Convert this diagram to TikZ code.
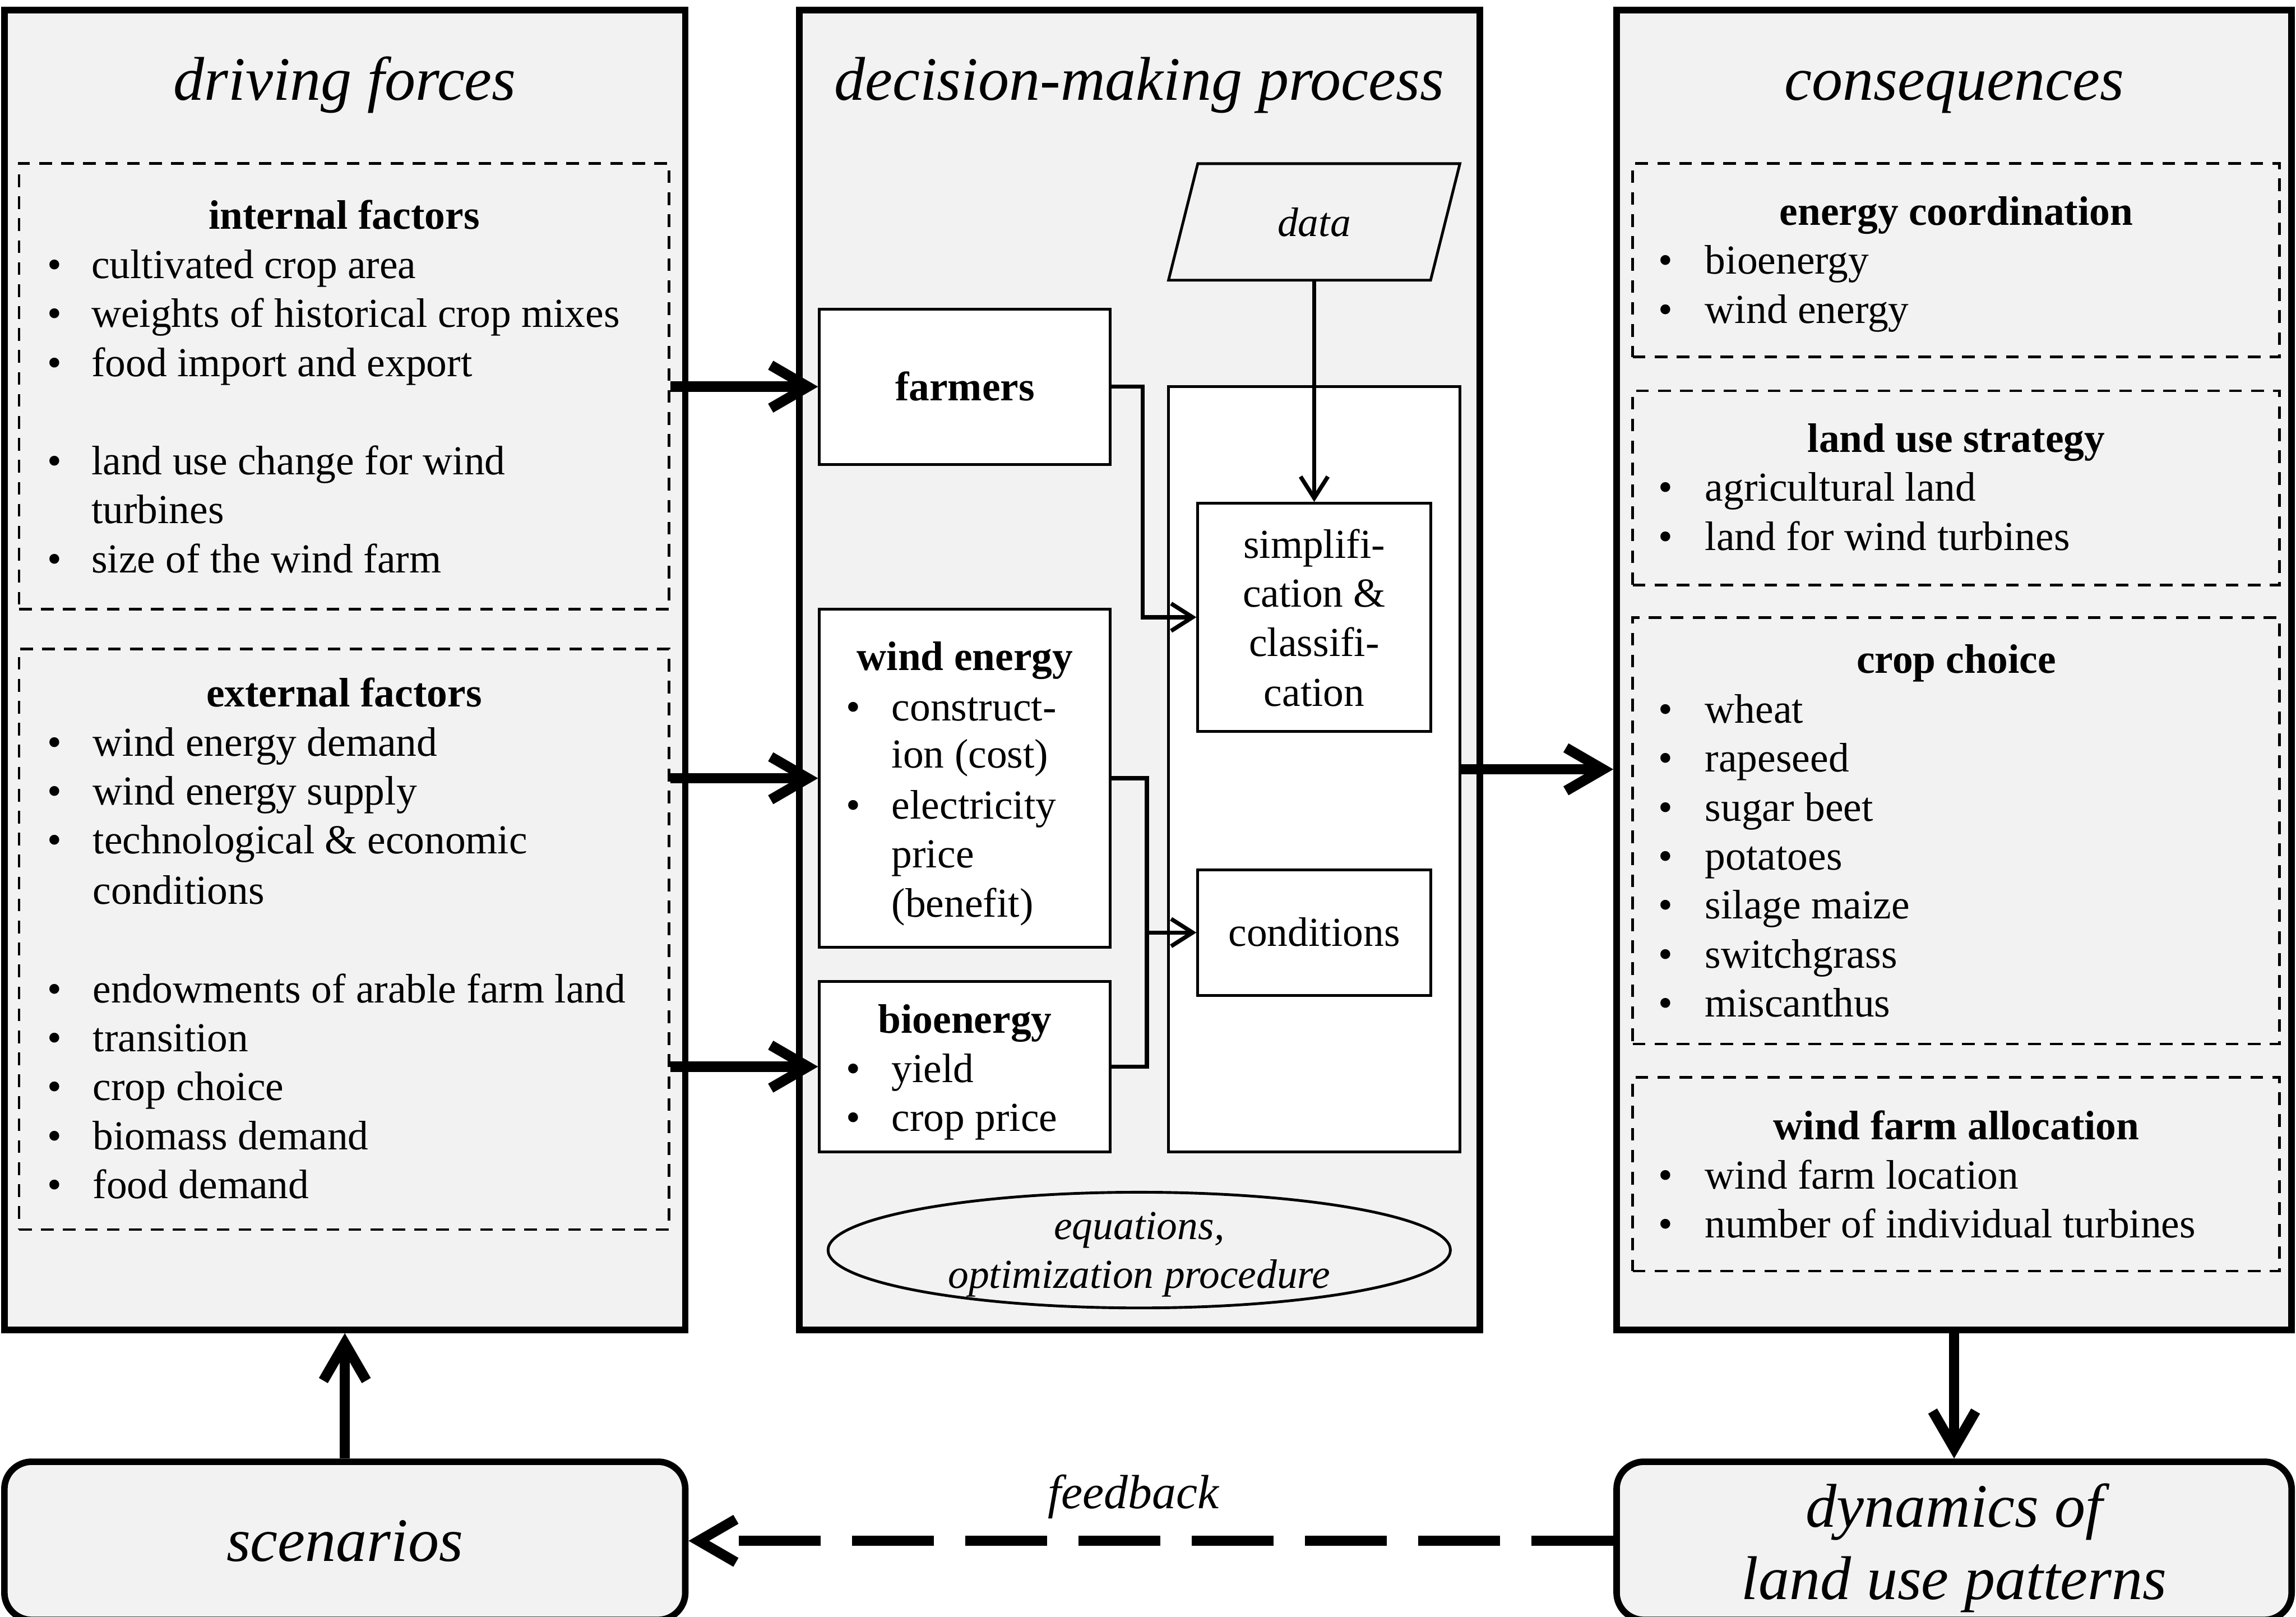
\documentclass[12pt,tikz,border=0pt]{standalone}
\usepackage{fontspec}
\setmainfont{Liberation Serif}
\usetikzlibrary{
arrows.meta,
calc,
fit,
positioning,
shapes
}
\definecolor{panelgray}{RGB}{242,242,242}
\tikzset{>=latex}

\begin{document}
\begin{tikzpicture}[x=0.15mm, y=-0.15mm,
	panel/.style={draw, line width=1.9pt, fill=panelgray, inner sep=0pt},
	dashgroup/.style={draw, line width=0.8pt, dash pattern=on 1.3mm off 0.95mm, inner sep=0pt},
	box/.style={draw, line width=0.8pt, fill=white, inner sep=0pt},
	heading/.style={anchor=base, font=\fontsize{18}{21.6}\selectfont\itshape},
	groupname/.style={anchor=base, font=\bfseries},
	label text/.style={anchor=base, inner sep=0pt},
	entry/.style={anchor=base west, inner sep=0pt},
	thick arrow/.style={line width=3pt, -{Straight Barb[length=3.8mm, width=4.4mm]}},
	thin arrow/.style={line width=1.2pt, -{Straight Barb[length=2.2mm, width=2.8mm]}}]
		\clip (0,0) rectangle (1568,1104);

		% three main panels
		\node[panel, fit={(3,7) (468,908)}] (drivers) {};
		\node[panel, fit={(546,7) (1010.5,908)}] (decision) {};
		\node[panel, fit={(1104,7) (1565,908)}] (consequences) {};
		\node[heading] at (235.5,68.5) {driving forces};
		\node[heading] at (778,68.5) {decision-making process};
		\node[heading] at (1334.5,68.5) {consequences};

		% driving forces
		\node[dashgroup, fit={(13,111.5) (457,416)}] (internal) {};
		\node[dashgroup, fit={(13,443) (457,839.5)}] (external) {};

		\node[groupname] at (235,156.5) {internal factors};
		\foreach \y/\t in {190/cultivated crop area, 223.5/weights of historical crop mixes, 257/food import and export, 324/land use change for wind, 391/size of the wind farm}{
			\node[entry] at (32,\y) {\textbullet};
			\node[entry] at (62,\y) {\t};
		}
		\node[entry] at (62,357.5) {turbines};

		\node[groupname] at (235,482.7) {external factors};
		\foreach \y/\t in {516.2/wind energy demand, 549.6/wind energy supply, 583/technological \& economic, 684.6/endowments of arable farm land, 718/transition, 751.4/crop choice, 784.8/biomass demand, 818.2/food demand}{
			\node[entry] at (32,\y) {\textbullet};
			\node[entry] at (63,\y) {\t};
		}
		\node[entry] at (63,617.3) {conditions};

		% decision-making process
		\draw[line width=0.8pt, fill=panelgray] (818,111.7) -- (997,111.7) -- (977,191.3) -- (798,191.3) -- cycle;
		\node[label text, font=\itshape] (data) at (897.5,161.5) {data};
		\coordinate (databottom) at (897.5,191.3);

		\node[box, fit={(559.6,211) (758.3,317)}] (farmers) {};
		\node[box, fit={(559.6,416) (758.3,646.7)}] (wind) {};
		\node[box, fit={(559.6,670) (758.3,786.5)}] (bio) {};
		\node[box, fit={(798,264) (997,786.5)}] (method) {};
		\node[box, fit={(818,343.6) (977,499.2)}] (simplify) {};
		\node[box, fit={(818,593.8) (977,679.6)}] (conditions) {};

		\node[groupname] at (659,273.7) {farmers};
		\foreach \y/\t in {381/simplifi-, 414.5/cation \&, 448/classifi-, 482/cation}{
			\node[label text] at (897.5,\y) {\t};
		}
		\node[label text] at (897.5,646) {conditions};

		\node[groupname] at (659,457.5) {wind energy};
		\foreach \y/\t in {492/construct-, 559/electricity}{
			\node[entry] at (577.5,\y) {\textbullet};
			\node[entry] at (608.5,\y) {\t};
		}
		\foreach \y/\t in {524.4/ion (cost), 592.4/price, 626/(benefit)}{
			\node[entry] at (608.5,\y) {\t};
		}
		\node[groupname] at (659,705.4) {bioenergy};
		\foreach \y/\t in {739/yield, 772.4/crop price}{
			\node[entry] at (577.5,\y) {\textbullet};
			\node[entry] at (608.5,\y) {\t};
		}

		\node[draw, ellipse, line width=0.8pt, fill=panelgray, minimum width=63.75mm, minimum height=11.85mm] (equations) at (778,853.5) {};
		\node[label text, font=\itshape] at (778,846) {equations,};
		\node[label text, font=\itshape] at (778,879.6) {optimization procedure};

		\draw[thin arrow] (databottom) -- (simplify.north);
		\draw[thin arrow] (farmers.east) -- ++(21,0) |- (simplify.west);
		\draw[line width=1.2pt] (wind.east) -- ++(24,0) |- (bio.east);
		\coordinate (windjoin) at ($(wind.east)+(24,0)$);
		\draw[thin arrow] (windjoin |- conditions.west) -- (conditions.west);

		% consequences
		\node[dashgroup, fit={(1115,111.7) (1556.7,243.8)}] (coordination) {};
		\node[dashgroup, fit={(1115,266.8) (1556.7,399.4)}] (strategy) {};
		\node[dashgroup, fit={(1115,421.6) (1556.7,712.8)}] (cropchoice) {};
		\node[dashgroup, fit={(1115,735.6) (1556.7,867.8)}] (allocation) {};

		\node[groupname] at (1336,153.6) {energy coordination};
		\node[groupname] at (1336,308.7) {land use strategy};
		\node[groupname] at (1336,459.5) {crop choice};
		\node[groupname] at (1336,778) {wind farm allocation};
		\foreach \y/\t in {187/bioenergy, 220.7/wind energy, 342/agricultural land, 375.7/land for wind turbines, 493.5/wheat, 527/rapeseed, 560.6/sugar beet, 594/potatoes, 627.3/silage maize, 661/switchgrass, 694.4/miscanthus, 811.7/wind farm location, 845/number of individual turbines}{
			\node[entry] at (1132,\y) {\textbullet};
			\node[entry] at (1164,\y) {\t};
		}

		% scenarios and feedback loop
		\node[panel, rounded corners=2.8mm, fit={(3,998) (468,1106)}] (scenarios) {};
		\node[panel, rounded corners=2.8mm, fit={(1104,998) (1565,1106)}] (dynamics) {};
		\node[heading] at (235.5,1066) {scenarios};
		\node[heading] at (1334.5,1042.5) {dynamics of};
		\node[heading] at (1334.5,1092) {land use patterns};
		\node[anchor=base, font=\fontsize{14}{16.8}\selectfont\itshape] at (774,1030) {feedback};

		\draw[thick arrow] (internal.east |- farmers.west) -- (farmers.west);
		\draw[thick arrow] (external.east |- wind.west) -- (wind.west);
		\draw[thick arrow] (external.east |- bio.west) -- (bio.west);
		\draw[thick arrow] (method.east) -- (method.east -| consequences.west);
		\draw[thick arrow] (scenarios.north) -- (drivers.south);
		\draw[thick arrow] (consequences.south) -- (dynamics.north);
		\draw[thick arrow, dash pattern=on 8.4mm off 3.2mm] (dynamics.west) -- (scenarios.east);
	\end{tikzpicture}
\end{document}
